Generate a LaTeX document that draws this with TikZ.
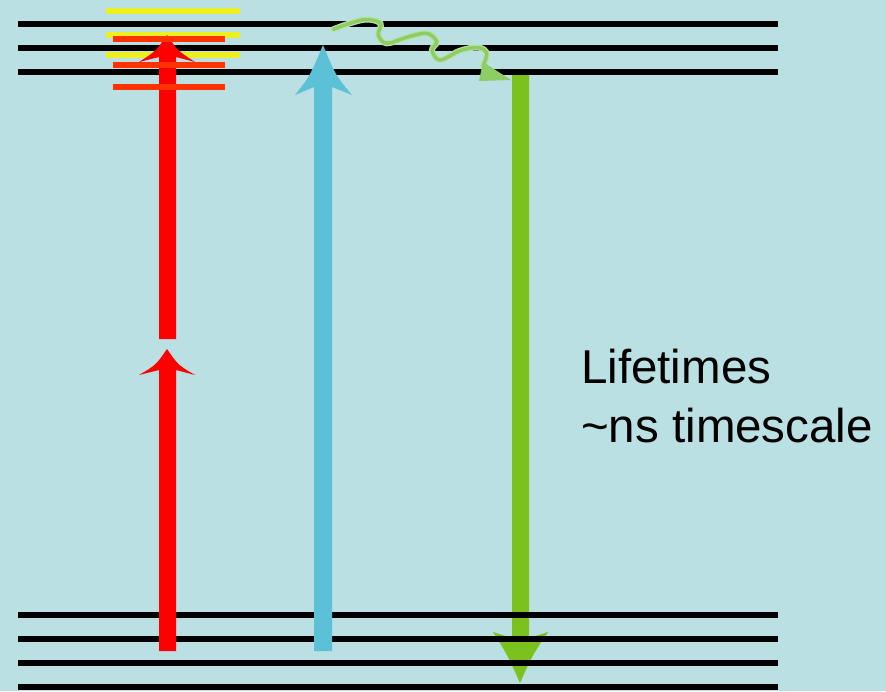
\documentclass[tikz,border=0pt]{standalone}
\usepackage{fontspec}
\setmainfont{Liberation Sans}
\definecolor{bgc}{RGB}{186,224,227}
\definecolor{redA}{RGB}{255,0,0}
\definecolor{orangeL}{RGB}{255,51,0}
\definecolor{yellowL}{RGB}{236,240,34}
\definecolor{blueA}{RGB}{92,192,214}
\definecolor{greenA}{RGB}{124,194,30}
\definecolor{waveC}{RGB}{140,205,100}
\definecolor{waveE}{RGB}{185,225,165}
\tikzset{
  levelline/.style={line width=5.5pt, black},
  yelline/.style={line width=6pt, yellowL},
  orgline/.style={line width=6pt, orangeL},
  lbl/.style={anchor=base west, inner sep=0pt, font=\fontsize{47.5}{56}\selectfont},
}
\begin{document}
\begin{tikzpicture}[x=1pt,y=-1pt]
\useasboundingbox (0,0) rectangle (886,691);
\fill[bgc] (0,0) rectangle (886,691);
% green emission arrow (under the level lines)
\fill[greenA] (512,74) -- (529,74) -- (529,638) -- (548,632) .. controls (532,656) .. (520,683)
  .. controls (508,656) .. (493,632) -- (512,638) -- cycle;
% energy levels
\foreach \yy in {24,48,72,615,639,663,687}
  \draw[levelline] (18,\yy) -- (778,\yy);
% wavy relaxation
\draw[waveE, line width=6pt, line cap=round] plot[smooth, tension=0.6] coordinates
  {(333.3,29.3) (350,23.3) (366.7,19.5) (380.5,23.5) (378.3,35) (386.7,43.3) (406.7,37.3)
   (426.7,33.3) (436.7,41.7) (432,50) (440,60) (460,50.7) (478,47.5) (486.7,53.3) (483,66)};
\draw[waveC, line width=3.5pt, line cap=round] plot[smooth, tension=0.6] coordinates
  {(333.3,29.3) (350,23.3) (366.7,19.5) (380.5,23.5) (378.3,35) (386.7,43.3) (406.7,37.3)
   (426.7,33.3) (436.7,41.7) (432,50) (440,60) (460,50.7) (478,47.5) (486.7,53.3) (483,66)};
\fill[waveC] (483,62) -- (511,80) -- (479,81) -- cycle;
% yellow sublevels
\foreach \yy in {10.5,35,55}
  \draw[yelline] (106,\yy) -- (240,\yy);
% red two-photon arrows
\fill[redA] (167,35) .. controls (178,51) .. (195,62) -- (176,57) -- (176,339) -- (159,339)
  -- (159,57) -- (139,62) .. controls (156,51) .. (167,35) -- cycle;
\fill[redA] (167,349) .. controls (178,365) .. (195,375) -- (176,370) -- (176,651) -- (159,651)
  -- (159,370) -- (139,375) .. controls (156,365) .. (167,349) -- cycle;
% blue absorption arrow
\fill[blueA] (323,45) .. controls (336,76) .. (352,95) -- (332,87) -- (332,651) -- (314,651)
  -- (314,87) -- (295,95) .. controls (310,76) .. (323,45) -- cycle;
% orange sublevels
\foreach \yy in {39,65,87}
  \draw[orgline] (113,\yy) -- (225,\yy);
% label
\node[lbl] (lbl1) at (581,383) {Lifetimes};
\node[lbl] (lbl2) at (581,442) {\textasciitilde ns timescale};
\end{tikzpicture}
\end{document}
